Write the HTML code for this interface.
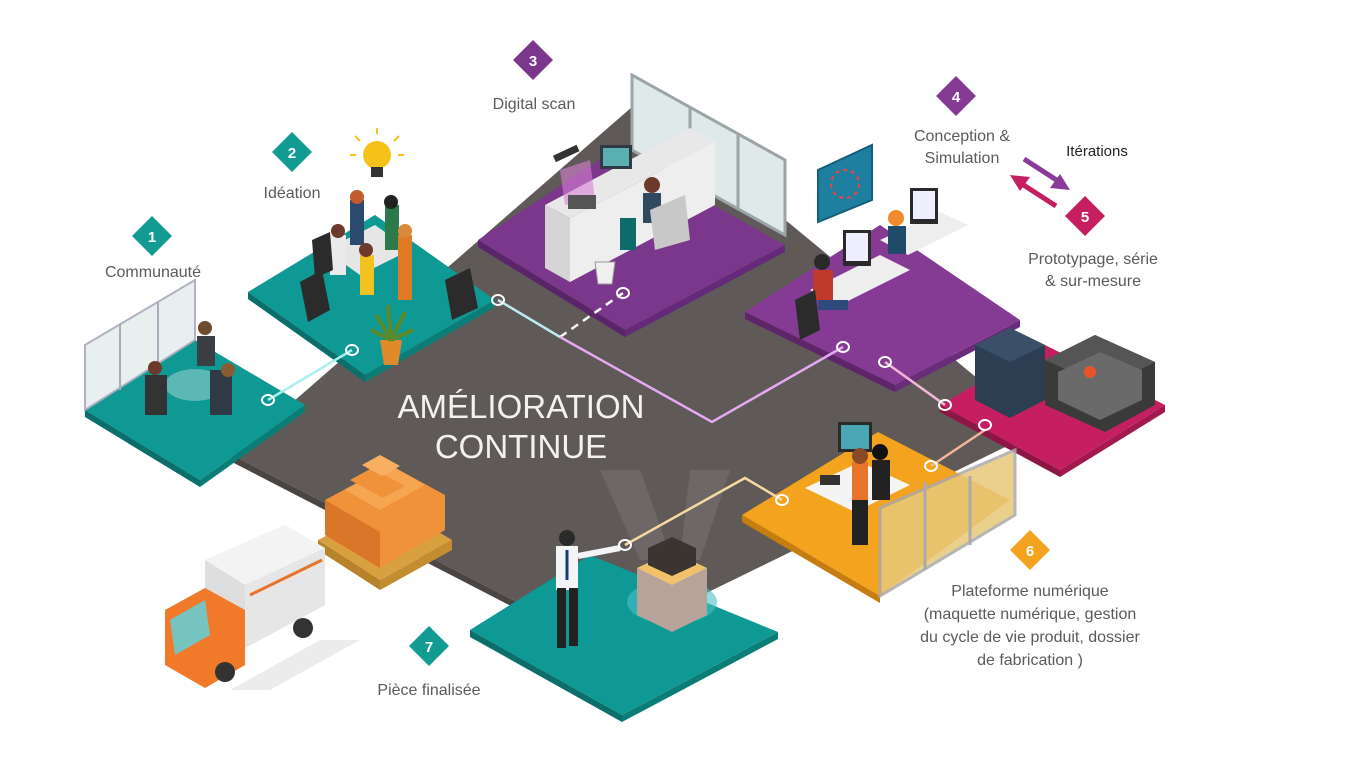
<!DOCTYPE html>
<html><head><meta charset="utf-8"><style>
html,body{margin:0;padding:0;background:#fff;}
svg{display:block}
text{font-family:"Liberation Sans",sans-serif;}
</style></head><body>
<svg width="1349" height="759" viewBox="0 0 1349 759" xmlns="http://www.w3.org/2000/svg">
<rect width="1349" height="759" fill="#fff"/>
<!-- gray floor -->
<polygon points="232,455 640,100 1040,430 600,645" fill="#5f5a58"/>
<polygon points="232,455 600,645 600,652 232,462" fill="#4a4543"/>
<!-- back wall 3 -->
<polygon points="632,75 785,160 785,235 632,150" fill="#dfe9e9" stroke="#9ba4a6" stroke-width="3"/>
<line x1="690" y1="108" x2="690" y2="182" stroke="#9ba4a6" stroke-width="3"/>
<line x1="738" y1="134" x2="738" y2="208" stroke="#9ba4a6" stroke-width="3"/>

<!-- platform 1 -->
<polygon points="85,410 195,340 305,405 200,480" fill="#0e9994"/>
<polygon points="85,410 200,480 200,487 85,417" fill="#0a6f6b"/>
<polygon points="200,480 305,405 305,412 200,487" fill="#0b7d79"/>
<polygon points="85,410 85,345 195,280 195,340" fill="#e5eeee" stroke="#aab" stroke-width="2" opacity=".9"/>
<line x1="120" y1="324" x2="120" y2="390" stroke="#aab" stroke-width="2"/>
<line x1="158" y1="302" x2="158" y2="367" stroke="#aab" stroke-width="2"/>
<ellipse cx="195" cy="385" rx="30" ry="16" fill="#5cb8b4"/>
<rect x="145" y="375" width="22" height="40" fill="#333"/><rect x="210" y="370" width="22" height="45" fill="#2f3a45"/>
<circle cx="205" cy="328" r="7" fill="#6b4a2e"/><rect x="197" y="336" width="18" height="30" fill="#3b3f44"/>
<circle cx="155" cy="368" r="7" fill="#6b3a2a"/><circle cx="228" cy="370" r="7" fill="#8a5a32"/>

<!-- platform 2 -->
<polygon points="248,292 375,215 495,300 365,375" fill="#0e9994"/>
<polygon points="248,292 365,375 365,382 248,299" fill="#0a6f6b"/>
<polygon points="365,375 495,300 495,307 365,382" fill="#0b7d79"/>
<polygon points="325,250 375,225 410,250 360,275" fill="#e6e6e6"/>
<rect x="350" y="200" width="14" height="45" fill="#2a4a70"/><rect x="385" y="205" width="14" height="45" fill="#2c7a4a"/>
<rect x="330" y="235" width="16" height="40" fill="#e8eaec"/><rect x="398" y="235" width="14" height="65" fill="#e07a24"/>
<rect x="360" y="255" width="14" height="40" fill="#f2c21e"/>
<circle cx="357" cy="197" r="7" fill="#c25a2a"/><circle cx="391" cy="202" r="7" fill="#222"/><circle cx="338" cy="231" r="7" fill="#6b3a2a"/><circle cx="366" cy="250" r="7" fill="#6b3a2a"/><circle cx="405" cy="231" r="7" fill="#d98a3a"/>
<polygon points="300,282 322,270 330,310 308,322" fill="#2b2b2b"/>
<polygon points="445,280 470,268 478,308 452,320" fill="#2b2b2b"/>
<polygon points="312,240 330,232 333,270 315,278" fill="#2b2b2b"/>
<path d="M380 340 h22 l-4 25 h-14z" fill="#e08a2a"/>
<path d="M391 340 l-15 -25 M391 340 l14 -28 M391 340 l-3 -35 M391 340 l-20 -10 M391 340 l22 -10" stroke="#5a8a2a" stroke-width="4"/>
<!-- bulb -->
<circle cx="377" cy="155" r="14" fill="#f6c21a"/><rect x="371" y="167" width="12" height="10" fill="#333"/>
<path d="M377 128 v6 M355 136 l5 5 M399 136 l-5 5 M350 155 h6 M398 155 h6" stroke="#f6c21a" stroke-width="2"/>

<!-- platform 3 -->
<polygon points="478,240 615,150 785,245 625,330" fill="#7b378c"/>
<polygon points="478,240 625,330 625,337 478,247" fill="#5a2468"/>
<polygon points="625,330 785,245 785,252 625,337" fill="#66297a"/>
<polygon points="545,205 690,128 715,142 570,218" fill="#e8e8e8"/>
<polygon points="545,205 570,218 570,282 545,268" fill="#d5d5d5"/>
<polygon points="570,218 715,142 715,205 570,282" fill="#eeeeee"/>
<rect x="600" y="145" width="32" height="24" fill="#2f3a44"/><rect x="603" y="148" width="26" height="18" fill="#5ab0b0"/>
<polygon points="560,170 590,160 595,200 565,205" fill="#d77fd3" opacity=".6"/>
<rect x="568" y="195" width="28" height="14" fill="#555"/>
<circle cx="652" cy="185" r="8" fill="#6b3a2a"/><rect x="643" y="193" width="18" height="30" fill="#2f4a60"/>
<polygon points="650,210 685,195 690,240 655,250" fill="#c8c8c8"/>
<rect x="620" y="218" width="16" height="32" fill="#0d6b6b"/>
<path d="M595 262 h20 l-3 22 h-14z" fill="#f0f0f0" stroke="#999"/>
<rect x="553" y="150" width="26" height="7" fill="#333" transform="rotate(-25 566 153)"/>

<!-- platform 4 -->
<polygon points="745,312 880,225 1020,320 895,385" fill="#853a93"/>
<polygon points="745,312 895,385 895,392 745,319" fill="#5e2568"/>
<polygon points="895,385 1020,320 1020,327 895,392" fill="#6b2b7b"/>
<polygon points="818,170 872,145 872,200 818,222" fill="#1e7fa0" stroke="#135e7a" stroke-width="2"/>
<circle cx="845" cy="184" r="14" fill="none" stroke="#e44" stroke-width="2" stroke-dasharray="4 4"/>
<polygon points="810,290 880,255 910,270 840,305" fill="#eee"/>
<polygon points="880,240 940,212 968,225 908,255" fill="#eee"/>
<rect x="843" y="230" width="28" height="36" fill="#2a2a2a"/><rect x="846" y="233" width="22" height="28" fill="#eef"/>
<rect x="910" y="188" width="28" height="36" fill="#2a2a2a"/><rect x="913" y="191" width="22" height="28" fill="#eef"/>
<circle cx="822" cy="262" r="8" fill="#2a2a2a"/><rect x="813" y="270" width="20" height="30" fill="#c0392b"/><rect x="818" y="300" width="30" height="10" fill="#2f4a7a"/>
<circle cx="896" cy="218" r="8" fill="#f08a2a"/><rect x="888" y="226" width="18" height="28" fill="#1f4a6a"/>
<polygon points="795,300 815,290 820,330 800,340" fill="#2b2b2b"/>

<!-- platform 5 -->
<polygon points="940,405 1045,345 1165,405 1060,470" fill="#c51f61"/>
<polygon points="940,405 1060,470 1060,477 940,412" fill="#8e1645"/>
<polygon points="1060,470 1165,405 1165,412 1060,477" fill="#a3184f"/>
<polygon points="975,345 1010,328 1045,345 1045,400 1010,418 975,400" fill="#2b3e52"/>
<polygon points="975,345 1010,328 1045,345 1010,362" fill="#3a5068"/>
<polygon points="1045,360 1095,335 1155,362 1155,405 1105,432 1045,405" fill="#3a3a3a"/>
<polygon points="1045,360 1095,335 1155,362 1105,387" fill="#555"/>
<polygon points="1058,372 1100,352 1142,370 1142,400 1100,420 1058,400" fill="#6a6a6a"/>
<circle cx="1090" cy="372" r="6" fill="#e8542a"/>

<!-- platform 6 -->
<polygon points="742,515 878,432 1010,500 880,596" fill="#f3a31d"/>
<polygon points="742,515 880,596 880,603 742,522" fill="#c67c0e"/>
<polygon points="880,508 880,596 1015,515 1015,450" fill="#e8c87a" opacity=".85" stroke="#aaa" stroke-width="3"/>
<line x1="925" y1="482" x2="925" y2="570" stroke="#aaa" stroke-width="3"/>
<line x1="970" y1="476" x2="970" y2="545" stroke="#aaa" stroke-width="3"/>
<polygon points="805,488 860,462 910,485 855,512" fill="#f4f4f4"/>
<rect x="838" y="422" width="34" height="30" fill="#2a2a2a"/><rect x="841" y="425" width="28" height="24" fill="#4aa8b4"/>
<rect x="852" y="462" width="16" height="60" fill="#e8742a"/><rect x="852" y="500" width="16" height="45" fill="#222"/><circle cx="860" cy="456" r="8" fill="#8a4a2a"/>
<circle cx="880" cy="452" r="8" fill="#111"/><rect x="872" y="460" width="18" height="40" fill="#222"/>
<rect x="820" y="475" width="20" height="10" fill="#333"/>

<!-- platform 7 -->
<polygon points="470,630 590,555 778,632 622,715" fill="#0e9994"/>
<polygon points="470,630 622,715 622,722 470,637" fill="#0a6f6b"/>
<polygon points="622,715 778,632 778,639 622,722" fill="#0b7d79"/>
<ellipse cx="672" cy="602" rx="45" ry="22" fill="#49c2c8" opacity=".6"/>
<polygon points="600,470 640,470 672,560 640,560" fill="#8a8585" opacity=".35"/>
<polygon points="690,470 730,470 700,560 680,560" fill="#8a8585" opacity=".35"/>
<polygon points="637,568 672,552 707,568 707,615 672,632 637,615" fill="#b6a49a"/>
<polygon points="637,568 672,552 707,568 672,585" fill="#f1c26a"/>
<polygon points="648,548 672,537 696,548 696,565 672,576 648,565" fill="#3a3530"/>
<circle cx="567" cy="538" r="8" fill="#2a2a2a"/>
<rect x="556" y="546" width="22" height="44" fill="#f2f4f6"/>
<line x1="578" y1="556" x2="620" y2="548" stroke="#f2f4f6" stroke-width="6"/>
<rect x="557" y="588" width="9" height="60" fill="#222"/><rect x="569" y="588" width="9" height="58" fill="#222"/>
<line x1="567" y1="550" x2="567" y2="580" stroke="#1a3a80" stroke-width="3"/>

<!-- pallet + boxes -->
<polygon points="318,540 390,503 452,540 380,580" fill="#d9a040"/>
<polygon points="318,540 380,580 380,590 318,550" fill="#b8822a"/>
<polygon points="380,580 452,540 452,550 380,590" fill="#c48d30"/>
<polygon points="325,500 390,465 445,495 445,530 380,568 325,535" fill="#f0923a"/>
<polygon points="325,500 380,532 380,568 325,535" fill="#d9762a"/>
<polygon points="345,490 390,465 425,485 380,510" fill="#f6a550"/>
<polygon points="350,480 372,468 405,486 383,498" fill="#f0923a"/>
<polygon points="362,465 380,455 400,466 382,476" fill="#f8b060"/>
<!-- truck -->
<polygon points="230,690 320,640 360,640 270,690" fill="#ececec"/>
<polygon points="205,560 285,525 325,548 325,605 245,648 205,620" fill="#dedede"/>
<polygon points="205,560 285,525 325,548 245,585" fill="#f3f3f3"/>
<polygon points="245,585 325,548 325,605 245,648" fill="#e6e6e6"/>
<line x1="250" y1="595" x2="322" y2="560" stroke="#e8742a" stroke-width="3"/>
<polygon points="165,610 205,588 245,610 245,665 205,688 165,665" fill="#f07a2a"/>
<polygon points="170,620 205,600 210,635 175,655" fill="#76c3c0"/>
<circle cx="225" cy="672" r="10" fill="#333"/><circle cx="303" cy="628" r="10" fill="#333"/>

<!-- connectors -->
<g fill="none" stroke-width="2.5">
<line x1="268" y1="400" x2="352" y2="350" stroke="#a8f0ee"/>
<line x1="498" y1="300" x2="560" y2="337" stroke="#bdebf2"/>
<line x1="560" y1="337" x2="623" y2="293" stroke="#fff" stroke-dasharray="8 6"/>
<polyline points="560,337 712,422 843,347" stroke="#e6a8f2"/>
<line x1="885" y1="362" x2="945" y2="405" stroke="#f4b8d6"/>
<polyline points="625,545 745,478 782,500" stroke="#f7d8a0"/>
<line x1="931" y1="466" x2="985" y2="430" stroke="#f6b49a"/>
</g>
<g fill="none" stroke="#fff" stroke-width="2">
<ellipse cx="268" cy="400" rx="6" ry="5"/><ellipse cx="352" cy="350" rx="6" ry="5"/>
<ellipse cx="498" cy="300" rx="6" ry="5"/><ellipse cx="623" cy="293" rx="6" ry="5"/>
<ellipse cx="843" cy="347" rx="6" ry="5"/><ellipse cx="885" cy="362" rx="6" ry="5"/>
<ellipse cx="945" cy="405" rx="6" ry="5"/><ellipse cx="985" cy="425" rx="6" ry="5"/>
<ellipse cx="931" cy="466" rx="6" ry="5"/><ellipse cx="782" cy="500" rx="6" ry="5"/>
<ellipse cx="625" cy="545" rx="6" ry="5"/>
</g>

<!-- center title -->
<text x="521" y="418" font-size="33" fill="#f2f2f2" text-anchor="middle">AMÉLIORATION</text>
<text x="521" y="458" font-size="33" fill="#f2f2f2" text-anchor="middle">CONTINUE</text>

<!-- diamonds -->
<g font-size="15" font-weight="bold" fill="#fff" text-anchor="middle">
<polygon points="152,216 172,236 152,256 132,236" fill="#129b93"/><text x="152" y="242">1</text>
<polygon points="292,132 312,152 292,172 272,152" fill="#129b93"/><text x="292" y="158">2</text>
<polygon points="533,40 553,60 533,80 513,60" fill="#7b378c"/><text x="533" y="66">3</text>
<polygon points="956,76 976,96 956,116 936,96" fill="#853a93"/><text x="956" y="102">4</text>
<polygon points="1085,196 1105,216 1085,236 1065,216" fill="#c51f61"/><text x="1085" y="222">5</text>
<polygon points="1030,530 1050,550 1030,570 1010,550" fill="#f3a31d"/><text x="1030" y="556">6</text>
<polygon points="429,626 449,646 429,666 409,646" fill="#129b93"/><text x="429" y="652">7</text>
</g>
<!-- arrows -->
<line x1="1024" y1="159" x2="1058" y2="181" stroke="#8a3a98" stroke-width="5"/>
<polygon points="1070,190 1050,188 1060,174" fill="#8a3a98"/>
<line x1="1056" y1="206" x2="1022" y2="184" stroke="#c51f61" stroke-width="5"/>
<polygon points="1010,175 1030,177 1020,191" fill="#c51f61"/>

<!-- labels -->
<g font-size="16" fill="#5a5a5a">
<text x="153" y="277" text-anchor="middle">Communauté</text>
<text x="292" y="198" text-anchor="middle">Idéation</text>
<text x="534" y="109" text-anchor="middle">Digital scan</text>
<text x="962" y="141" text-anchor="middle">Conception &amp;</text>
<text x="962" y="163" text-anchor="middle">Simulation</text>
<text x="1093" y="264" text-anchor="middle">Prototypage, série</text>
<text x="1093" y="286" text-anchor="middle">&amp; sur-mesure</text>
<text x="1030" y="596" text-anchor="middle">Plateforme numérique</text>
<text x="1030" y="619" text-anchor="middle">(maquette numérique, gestion</text>
<text x="1030" y="642" text-anchor="middle">du cycle de vie produit, dossier</text>
<text x="1030" y="665" text-anchor="middle">de fabrication )</text>
<text x="429" y="695" text-anchor="middle">Pièce finalisée</text>
</g>
<text x="1097" y="156" font-size="15" fill="#222" text-anchor="middle">Itérations</text>
</svg>
</body></html>
